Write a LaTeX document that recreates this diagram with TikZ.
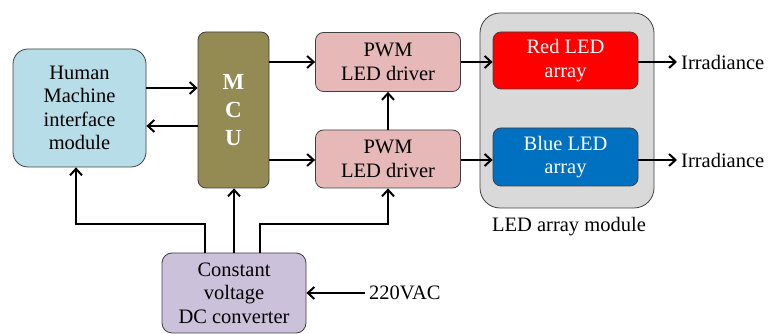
\documentclass[tikz,border=0pt]{standalone}
\usepackage{fontspec}
\setmainfont{Liberation Serif}
\usetikzlibrary{arrows.meta}
\definecolor{hmiblue}{HTML}{B7DDE8}
\definecolor{mcuolive}{HTML}{948A54}
\definecolor{pwmpink}{HTML}{E6B9B8}
\definecolor{modgray}{HTML}{D9D9D9}
\definecolor{ledblue}{HTML}{0070C0}
\definecolor{convlilac}{HTML}{CCC1DA}
\begin{document}
\begin{tikzpicture}[x=1pt, y=1pt,
  font=\fontsize{20.5}{23.5}\selectfont,
  block/.style={draw=black!75, line width=0.8pt, rectangle, rounded corners=8pt, align=center, inner sep=0pt},
  line/.style={line width=2pt, -{Straight Barb[length=6.5pt, width=12pt, line width=2pt]}}]
\useasboundingbox (0,0) rectangle (768,334);
\node[block, fill=modgray, rounded corners=20pt, minimum width=174pt, minimum height=195pt] (mod) at (567,223.5) {};
\node[block, fill=hmiblue, rounded corners=15pt, minimum width=133pt, minimum height=118pt] (hmi) at (79.5,226) {Human\\Machine\\interface\\module};
\node[block, fill=mcuolive, text=white, font=\fontsize{23}{28}\selectfont\bfseries, minimum width=71pt, minimum height=156pt] (mcu) at (233.5,224) {M\\C\\U};
\node[block, fill=pwmpink, minimum width=145pt, minimum height=59pt] (pwmA) at (388,272) {PWM\\LED driver};
\node[block, fill=pwmpink, minimum width=145pt, minimum height=58pt] (pwmB) at (388,175) {PWM\\LED driver};
\node[block, fill=red, text=white, minimum width=145pt, minimum height=57pt] (red) at (565.5,273.5) {Red LED\\array};
\node[block, fill=ledblue, text=white, minimum width=145pt, minimum height=58pt] (blue) at (565.5,177) {Blue LED\\array};
\node[block, fill=convlilac, rounded corners=10pt, minimum width=144pt, minimum height=80pt] (conv) at (234,41) {Constant\\voltage\\DC converter};
\node[anchor=west, inner sep=4pt] (irrA) at (677,272) {Irradiance};
\node[anchor=west, inner sep=4pt] (irrB) at (677,174) {Irradiance};
\node[anchor=west, inner sep=4pt] (vac) at (365,41) {220VAC};
\node (modlabel) at (569,107) {LED array module};
\draw[line] ([yshift=20pt]hmi.east) -- ([yshift=20pt]hmi.east -| mcu.west);
\draw[line] ([yshift=-16pt]mcu.west) -- ([yshift=-16pt]mcu.west -| hmi.east);
\draw[line] (mcu.east |- pwmA) -- (pwmA.west);
\draw[line] (mcu.east |- 0,174) -- (pwmB.west |- 0,174);
\draw[line] (pwmB) -- (pwmA);
\draw[line] (pwmA.east |- 0,272) -- (red.west |- 0,272);
\draw[line] (pwmB.east |- 0,174) -- (blue.west |- 0,174);
\draw[line] (red.east |- irrA) -- (irrA.west);
\draw[line] (blue.east |- irrB) -- (irrB.west);
\draw[line] (vac.west) -- (conv.east |- vac);
\draw[line] ([xshift=-29pt]conv.north) -- ++(0,29pt) -| ([xshift=-3.5pt]hmi.south);
\draw[line] (conv.north) -- (conv.north |- mcu.south);
\draw[line] ([xshift=26pt]conv.north) -- ++(0,29pt) -| (pwmB.south);
\end{tikzpicture}
\end{document}
